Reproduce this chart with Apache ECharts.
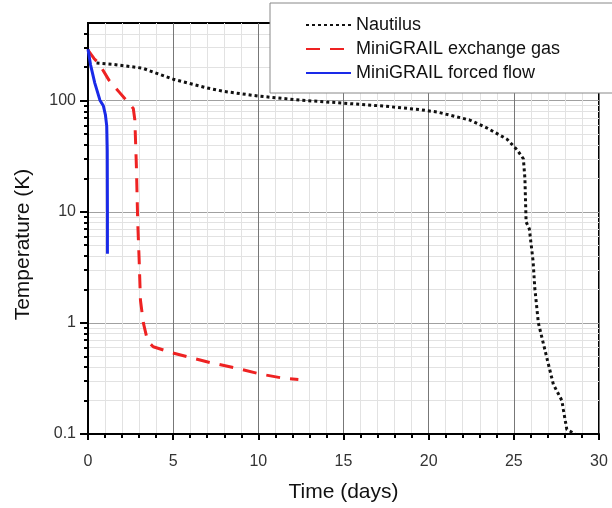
<!DOCTYPE html>
<html>
<head>
<meta charset="utf-8">
<script src="https://cdn.jsdelivr.net/npm/echarts@6/dist/echarts.min.js"></script>
<style>html,body{margin:0;padding:0;background:#fff}#c{width:612px;height:508px}</style>
</head>
<body>
<div id="c"></div>
<script>
const xTickLabels = [0, 5, 10, 15, 20, 25, 30];
const yTickLabels = [0.1, 1, 10, 100];
const yMinorValues = [0.2,0.3,0.4,0.5,0.6,0.7,0.8,0.9,2,3,4,5,6,7,8,9,20,30,40,50,60,70,80,90,200,300,400];

const nautilusDays = [0.5, 1.5, 3.2, 5, 7, 8, 10, 12.5, 15, 17.5, 19.5, 20.5, 22.4, 23.4, 24.6, 25.2, 25.56, 25.65, 25.72, 25.91, 26.13, 26.23, 26.44, 26.93, 27.32, 27.82, 27.91, 28.11, 28.6];
const nautilusTemp = [218, 212, 196, 156, 130, 121, 110, 101, 95, 89, 83, 79, 67, 57, 45, 36, 30, 20, 8.1, 7.0, 3.6, 2.06, 1.0, 0.49, 0.28, 0.20, 0.165, 0.11, 0.1];

const exchangeDays = [0, 0.35, 0.65, 1.23, 1.82, 2.66, 2.75, 2.84, 2.92, 3.0, 3.08, 3.25, 3.45, 3.6, 3.83, 4.91, 7.16, 8.92, 10.1, 11.45, 12.35];
const exchangeTemp = [285, 240, 215, 153, 120, 85, 67, 26, 8, 3.8, 1.6, 1.0, 0.74, 0.66, 0.61, 0.54, 0.44, 0.385, 0.347, 0.318, 0.31];

const forcedDays = [0, 0.15, 0.4, 0.7, 0.9, 1.02, 1.1, 1.13, 1.14, 1.14];
const forcedTemp = [290, 210, 144, 101, 90, 75, 59, 36, 10, 4.2];

const pairs = (xs, ys) => xs.map((x, i) => [x, ys[i]]);
const FONT = '"Liberation Sans", Arial, sans-serif';

const chart = echarts.init(document.getElementById('c'), null, {renderer: 'canvas'});
chart.setOption({
  animation: false,
  backgroundColor: '#fff',
  grid: {left: 88, right: 13, top: 23, bottom: 71, show: true, borderColor: '#000', borderWidth: 2, backgroundColor: 'transparent'},
  legend: {
    orient: 'vertical', left: 270, top: 3,
    padding: [13, 80, 11, 35],
    itemGap: 6, itemWidth: 45, itemHeight: 14,
    backgroundColor: '#fff', borderColor: '#888', borderWidth: 1,
    itemStyle: {opacity: 0},
    textStyle: {fontFamily: FONT, fontSize: 18, color: '#111'},
    data: ['Nautilus', 'MiniGRAIL exchange gas', 'MiniGRAIL forced flow']
  },
  xAxis: {
    type: 'value', min: 0, max: 30, interval: 5,
    name: 'Time (days)', nameLocation: 'middle', nameGap: 48,
    nameTextStyle: {fontFamily: FONT, fontSize: 21, color: '#111'},
    axisLine: {lineStyle: {color: '#000', width: 2}},
    axisTick: {length: 6, lineStyle: {color: '#000', width: 2}},
    minorTick: {show: true, splitNumber: 5, length: 4, lineStyle: {color: '#000', width: 2}},
    axisLabel: {fontFamily: FONT, fontSize: 16, color: '#333', margin: 20,
      customValues: xTickLabels},
    splitLine: {show: true, lineStyle: {color: '#777', width: 1}},
    minorSplitLine: {show: true, lineStyle: {color: '#e2e2e2', width: 1}}
  },
  yAxis: [{
    type: 'log', logBase: 10, min: 0.1, max: 500,
    name: 'Temperature (K)', nameLocation: 'middle', nameGap: 54,
    nameTextStyle: {fontFamily: FONT, fontSize: 21, color: '#111', padding: [0, 32, 0, 0]},
    axisLine: {lineStyle: {color: '#000', width: 2}},
    axisTick: {length: 8, lineStyle: {color: '#000', width: 2}, customValues: yTickLabels},
    axisLabel: {fontFamily: FONT, fontSize: 16, color: '#333', margin: 12, customValues: yTickLabels,
      formatter: v => String(v)},
    splitLine: {show: true, lineStyle: {color: '#a0a0a0', width: 1}}
  }, {
    type: 'log', logBase: 10, min: 0.1, max: 500, position: 'left',
    axisLine: {show: false},
    axisTick: {length: 4, lineStyle: {color: '#000', width: 2}, customValues: yMinorValues},
    axisLabel: {show: false},
    splitLine: {show: true, lineStyle: {color: '#e2e2e2', width: 1}}
  }],
  series: [{
    name: 'Nautilus', type: 'line', yAxisIndex: 0, symbol: 'none', z: 3,
    lineStyle: {color: '#111', width: 3, type: [3, 3]},
    itemStyle: {color: '#111'},
    data: pairs(nautilusDays, nautilusTemp)
  }, {
    name: 'MiniGRAIL exchange gas', type: 'line', yAxisIndex: 0, symbol: 'none', z: 3,
    lineStyle: {color: '#ee2222', width: 3, type: [14, 10]},
    itemStyle: {color: '#ee2222'},
    data: pairs(exchangeDays, exchangeTemp)
  }, {
    name: 'MiniGRAIL forced flow', type: 'line', yAxisIndex: 0, symbol: 'none', z: 4,
    lineStyle: {color: '#1a2ae8', width: 3},
    itemStyle: {color: '#1a2ae8'},
    data: pairs(forcedDays, forcedTemp)
  }]
});
</script>
</body>
</html>
